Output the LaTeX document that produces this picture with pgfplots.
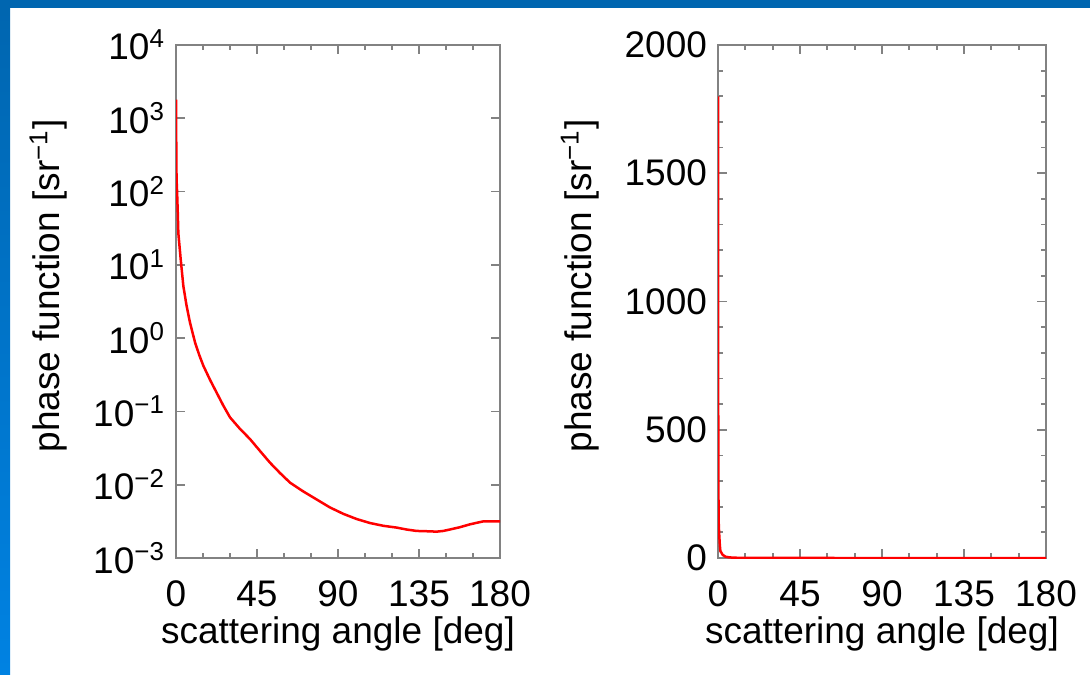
\documentclass[border=0pt]{standalone}
\usepackage{fontspec}
\setmainfont{Liberation Sans}
\usepackage{pgfplots}
\pgfplotsset{compat=1.18}

\definecolor{framebluetop}{RGB}{0,102,176}
\definecolor{framebluebot}{RGB}{0,130,226}
\definecolor{axgray}{RGB}{130,130,130}
\definecolor{curvered}{RGB}{255,0,0}

\pgfplotstableread{
ang   pf
0     1800
0.1   630
0.3   150
0.6   100
1.0   50
1.3   27
2.6   12
4.1   5.1
5.9   2.75
7.8   1.62
10.6  0.87
12.9  0.59
15.2  0.42
18.9  0.27
22.6  0.18
26.3  0.12
30    0.083
35.5  0.058
41.1  0.042
46.6  0.029
52.2  0.020
57.7  0.0145
63.3  0.0107
70.7  0.0081
78.1  0.0063
85.5  0.0049
93    0.0040
100.4 0.0034
107.8 0.0030
115.2 0.00275
122.6 0.0026
128   0.00245
133.7 0.00234
139   0.00232
144.8 0.00229
148.5 0.00234
152.2 0.00245
157.7 0.00263
163.3 0.00288
167   0.00302
170.7 0.00316
175   0.00316
180   0.00316
}\phasetab

\pgfplotsset{
  phasestyle/.style={
    scale only axis,
    xmin=0, xmax=180,
    xtick={0,45,90,135,180},
    minor x tick num=2,
    axis line style={axgray, line width=1pt},
    every tick/.style={axgray, line width=0.9pt},
    major tick length=4.5pt,
    minor tick length=2.5pt,
    tick align=inside,
    /pgf/number format/assume math mode=true,
    /pgf/number format/1000 sep={},
    tick label style={font=\fontsize{18.5}{20}\selectfont, black},
    xticklabel style={yshift=-8pt},
    yticklabel style={xshift=-2pt},
    xlabel={scattering angle [deg]},
    ylabel={phase function [sr\textsuperscript{−1}]},
    every axis y label/.style={at={(ticklabel cs:0.53)}, rotate=90, anchor=south,
      yshift=6pt, font=\fontsize{18.5}{20}\selectfont, black},
    every axis x label/.style={at={(ticklabel cs:0.5)}, anchor=north, yshift=2pt,
      font=\fontsize{18.5}{20}\selectfont, black},
  }
}

\begin{document}
\begin{tikzpicture}
% page and slide frame
\path (0,0) rectangle (545pt,337pt);
\fill[framebluetop] (0,332.8pt) rectangle (545pt,337pt);
\shade[top color=framebluetop, bottom color=framebluebot] (0,0) rectangle (5pt,332.8pt);

\begin{axis}[phasestyle,
  at={(88pt,58pt)}, anchor=south west,
  width=162pt, height=256.5pt,
  ymode=log, ymin=1e-3, ymax=1e4,
  ytick={1e-3,1e-2,1e-1,1,1e1,1e2,1e3,1e4},
  yticklabels={10\textsuperscript{−3},10\textsuperscript{−2},10\textsuperscript{−1},10\textsuperscript{0},10\textsuperscript{1},10\textsuperscript{2},10\textsuperscript{3},10\textsuperscript{4}},
  yminorticks=false,
]
\addplot[curvered, line width=1.25pt] table[x=ang, y=pf] {\phasetab};
\end{axis}

\begin{axis}[phasestyle,
  at={(359pt,58pt)}, anchor=south west,
  width=164pt, height=256.5pt,
  ymin=0, ymax=2000,
  ytick={0,500,1000,1500,2000},
  minor y tick num=4,
  scaled y ticks=false,
]
\addplot[curvered, line width=1.25pt] table[x=ang, y=pf] {\phasetab};
\end{axis}
\end{tikzpicture}
\end{document}
